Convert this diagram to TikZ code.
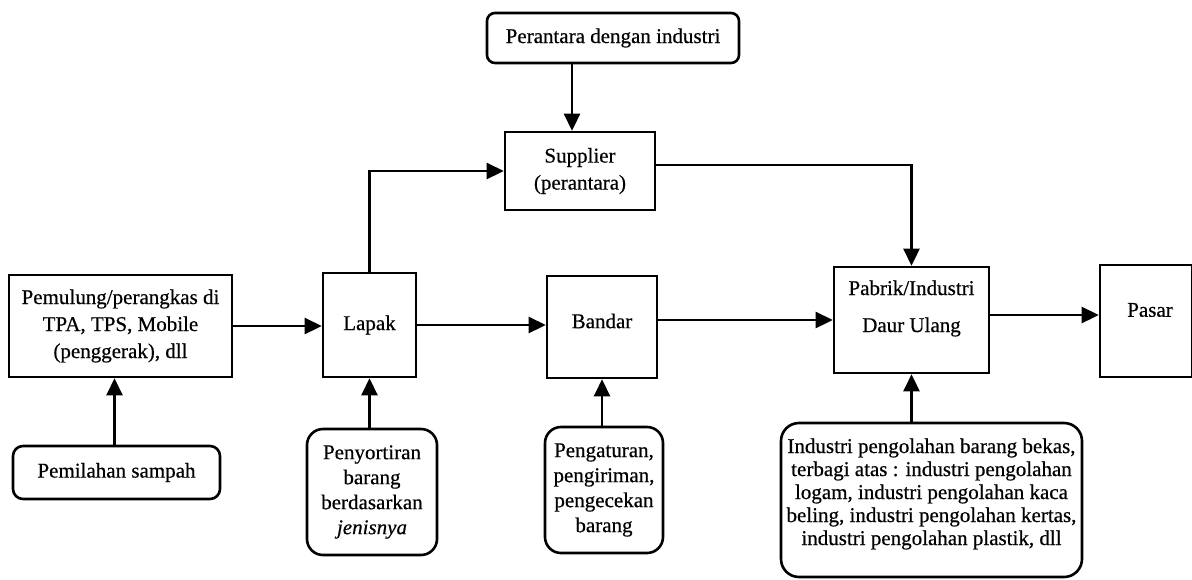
\documentclass[tikz,border=0pt]{standalone}
\usepackage{fontspec}
\setmainfont{Liberation Serif}[FakeBold=0.5,AutoFakeBold=0.5]
\usetikzlibrary{arrows.meta,calc}
\tikzset{
  box/.style={draw, line width=2.6pt, inner sep=0pt, align=center, anchor=center},
  rbox/.style={box, rounded corners=#1},
  lbl/.style={inner sep=0pt, align=center, anchor=center},
  arr/.style={line width=2.6pt, -{Triangle[length=17pt,width=16pt]}},
}
\begin{document}
\begin{tikzpicture}[x=1pt,y=-1pt, font=\bfseries\fontsize{21}{27}\selectfont]
\useasboundingbox (0,0) rectangle (1192,579);
% top
\node[rbox=8pt, minimum width=252pt, minimum height=50pt] (perantara) at (613,38) {Perantara dengan industri};
\node[box, minimum width=150pt, minimum height=78pt] (supplier) at (580,171) {Supplier\\(perantara)};
% middle row
\node[box, minimum width=223pt, minimum height=102pt] (pemulung) at (120.5,326) {Pemulung/perangkas di\\TPA, TPS, Mobile\\(penggerak), dll};
\node[box, minimum width=93pt, minimum height=104pt] (lapak) at (369.5,325) {Lapak};
\node[box, minimum width=110pt, minimum height=102pt] (bandar) at (602,327) {};
\node[lbl] (bandarT) at (602,321) {Bandar};
\node[box, minimum width=155pt, minimum height=106pt] (pabrik) at (911.5,320) {};
\node[lbl, font=\bfseries\fontsize{21}{37}\selectfont] (pabrikT) at (911.5,308.5) {Pabrik/Industri\\Daur Ulang};
\node[box, minimum width=92pt, minimum height=112pt] (pasar) at (1146,321) {};
\node[lbl] (pasarT) at (1150,310) {Pasar};
% bottom row
\node[rbox=10pt, minimum width=207pt, minimum height=53pt] (pemilahan) at (116.5,472.5) {Pemilahan sampah};
\node[rbox=16pt, minimum width=130pt, minimum height=126pt, font=\bfseries\fontsize{21}{25}\selectfont] (penyortiran) at (372,492) {Penyortiran\\barang\\berdasarkan\\\textit{jenisnya}};
\node[rbox=16pt, minimum width=118pt, minimum height=126pt, font=\bfseries\fontsize{21}{25}\selectfont] (pengaturan) at (604,490) {Pengaturan,\\pengiriman,\\pengecekan\\barang};
\node[rbox=18pt, minimum width=301pt, minimum height=154pt] (industri) at (931.5,500) {};
\node[lbl, font=\bfseries\fontsize{21}{23}\selectfont] (industriT) at (931.5,494) {Industri pengolahan barang bekas,\\terbagi atas : industri pengolahan\\logam, industri pengolahan kaca\\beling, industri pengolahan kertas,\\industri pengolahan plastik, dll};
% connectors
\draw[arr] ([xshift=-8pt]supplier.north |- perantara.south) -- ([xshift=-8pt]supplier.north);
\draw[arr] (lapak.north) |- (supplier.west);
\draw[arr] ([yshift=6pt]supplier.east) -| (pabrik.north);
\draw[arr] (pemulung.east) -- (pemulung.east -| lapak.west);
\draw[arr] (lapak.east) -- (lapak.east -| bandar.west);
\draw[arr] ([yshift=7pt]bandar.east) -- ([yshift=7pt]bandar.east -| pabrik.west);
\draw[arr] ([yshift=5pt]pabrik.east) -- ([yshift=5pt]pabrik.east -| pasar.west);
\draw[arr] ([xshift=-2pt]pemilahan.north) -- ([xshift=-2pt]pemilahan.north |- pemulung.south);
\draw[arr] (lapak.south |- penyortiran.north) -- (lapak.south);
\draw[arr] (bandar.south |- pengaturan.north) -- (bandar.south);
\draw[arr] (pabrik.south |- industri.north) -- (pabrik.south);
\end{tikzpicture}
\end{document}
